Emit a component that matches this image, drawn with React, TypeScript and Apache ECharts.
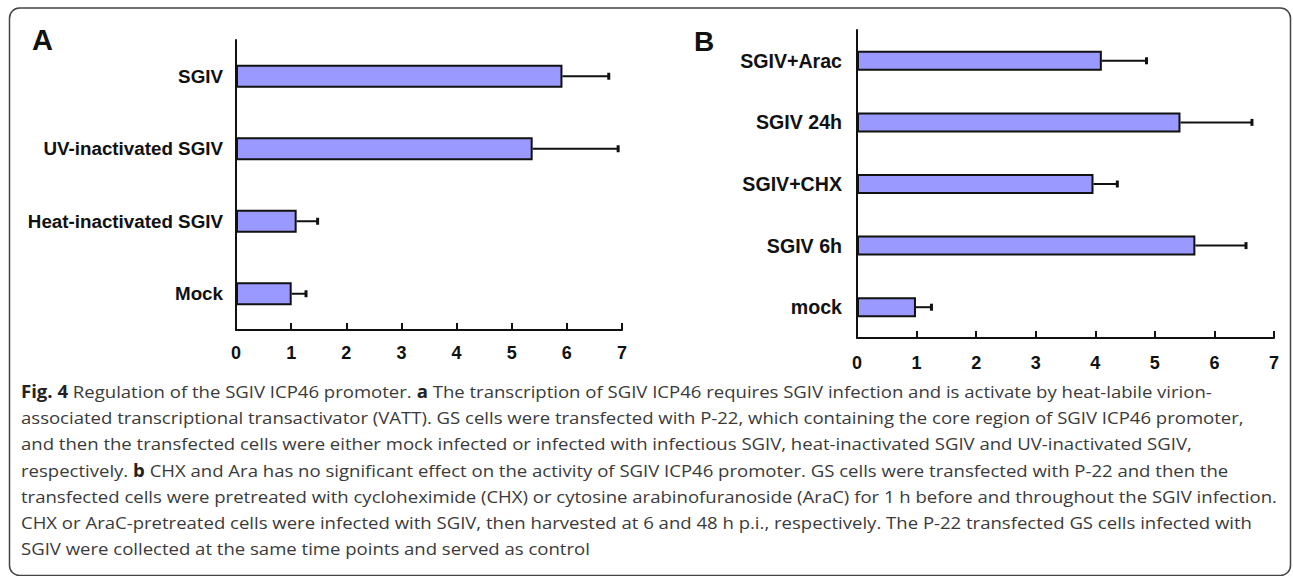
import React, { useEffect, useRef } from "react";
import * as echarts from "echarts";

const catsA = ["SGIV", "UV-inactivated SGIV", "Heat-inactivated SGIV", "Mock"];
const meansA = [5.92, 5.38, 1.1, 1.01];
const upperA = [6.76, 6.93, 1.48, 1.27];

const catsB = ["SGIV+Arac", "SGIV 24h", "SGIV+CHX", "SGIV 6h", "mock"];
const meansB = [4.11, 5.43, 3.97, 5.68, 0.99];
const upperB = [4.86, 6.63, 4.37, 6.53, 1.25];

const xMin = 0;
const xMax = 7;
const xStep = 1;

const panelLetters = ["A", "B"];

const captionLines = [
  "{b|Fig. 4} Regulation of the SGIV ICP46 promoter. {b|a} The transcription of SGIV ICP46 requires SGIV infection and is activate by heat-labile virion-",
  "associated transcriptional transactivator (VATT). GS cells were transfected with P-22, which containing the core region of SGIV ICP46 promoter,",
  "and then the transfected cells were either mock infected or infected with infectious SGIV, heat-inactivated SGIV and UV-inactivated SGIV,",
  "respectively. {b|b} CHX and Ara has no significant effect on the activity of SGIV ICP46 promoter. GS cells were transfected with P-22 and then the",
  "transfected cells were pretreated with cycloheximide (CHX) or cytosine arabinofuranoside (AraC) for 1 h before and throughout the SGIV infection.",
  "CHX or AraC-pretreated cells were infected with SGIV, then harvested at 6 and 48 h p.i., respectively. The P-22 transfected GS cells infected with",
  "SGIV were collected at the same time points and served as control",
];

const AX_FONT = "'Liberation Sans', Arial, sans-serif";
const CAP_FONT = "'Open Sans', 'Noto Sans', sans-serif";

function errRender(params: any, api: any) {
  const cat = api.value(0);
  const m = api.value(1);
  const u = api.value(2);
  const p0 = api.coord([m, cat]);
  const p1 = api.coord([u, cat]);
  return {
    type: "group",
    children: [
      {
        type: "line",
        shape: { x1: p0[0], y1: p0[1], x2: p1[0], y2: p1[1] },
        style: { stroke: "#111", lineWidth: 2 },
      },
      {
        type: "line",
        shape: { x1: p1[0], y1: p1[1] - 3.5, x2: p1[0], y2: p1[1] + 3.5 },
        style: { stroke: "#111", lineWidth: 3 },
      },
    ],
  };
}

export default function App() {
  const ref = useRef<HTMLDivElement>(null);
  useEffect(() => {
    if (!ref.current) return;
    const chart = echarts.init(ref.current, null, { renderer: "svg" });

    let scale = 0.92;
    try {
      const ctx = document.createElement("canvas").getContext("2d");
      if (ctx) {
        ctx.font = "17px 'Open Sans'";
        const w = ctx.measureText(captionLines[4]).width;
        if (w > 0) scale = 1257 / w;
      }
    } catch (e) {}

    const xAxisBase = (gridIndex: number, margin: number) => ({
      type: "value",
      gridIndex,
      min: xMin,
      max: xMax,
      interval: xStep,
      splitLine: { show: false },
      axisLine: { show: true, lineStyle: { color: "#111", width: 2 } },
      axisTick: { show: true, inside: true, length: 7, lineStyle: { color: "#111", width: 2 } },
      axisLabel: {
        color: "#111",
        fontWeight: "bold",
        fontSize: 18,
        fontFamily: AX_FONT,
        margin,
      },
    });
    const yAxisBase = (gridIndex: number, data: string[], fontSize: number, margin: number) => ({
      type: "category",
      gridIndex,
      data,
      inverse: true,
      axisLine: { show: true, onZero: false, lineStyle: { color: "#111", width: 2 } },
      axisTick: { show: false },
      axisLabel: {
        color: "#111",
        fontWeight: "bold",
        fontSize,
        fontFamily: AX_FONT,
        margin,
      },
    });

    const option: any = {
      animation: false,
      backgroundColor: "#fff",
      grid: [
        { left: 236, top: 40, width: 386, height: 290 },
        { left: 857, top: 30, width: 417, height: 308 },
      ],
      xAxis: [xAxisBase(0, 14), xAxisBase(1, 16)],
      yAxis: [yAxisBase(0, catsA, 18.8, 13), yAxisBase(1, catsB, 19.6, 15)],
      series: [
        {
          type: "bar",
          xAxisIndex: 0,
          yAxisIndex: 0,
          data: meansA,
          barWidth: 23,
          itemStyle: { color: "#9999ff", borderColor: "#111", borderWidth: 2 },
        },
        {
          type: "custom",
          xAxisIndex: 0,
          yAxisIndex: 0,
          renderItem: errRender,
          encode: { x: [1, 2], y: 0 },
          data: catsA.map((c, i) => [i, meansA[i], upperA[i]]),
          z: 3,
        },
        {
          type: "bar",
          xAxisIndex: 1,
          yAxisIndex: 1,
          data: meansB,
          barWidth: 20,
          itemStyle: { color: "#9999ff", borderColor: "#111", borderWidth: 2 },
        },
        {
          type: "custom",
          xAxisIndex: 1,
          yAxisIndex: 1,
          renderItem: errRender,
          encode: { x: [1, 2], y: 0 },
          data: catsB.map((c, i) => [i, meansB[i], upperB[i]]),
          z: 3,
        },
      ],
      graphic: [
        {
          type: "rect",
          shape: { x: 9.5, y: 8, width: 1281, height: 567.5, r: 10 },
          style: { fill: "none", stroke: "#444", lineWidth: 1.5 },
          silent: true,
        },
        {
          type: "text",
          x: 32,
          y: 40,
          style: {
            text: panelLetters[0],
            font: `bold 29px ${AX_FONT}`,
            fill: "#111",
            textAlign: "left",
            textVerticalAlign: "middle",
          },
        },
        {
          type: "text",
          x: 694,
          y: 41,
          style: {
            text: panelLetters[1],
            font: `bold 28px ${AX_FONT}`,
            fill: "#111",
            textAlign: "left",
            textVerticalAlign: "middle",
          },
        },
        {
          type: "group",
          x: 21,
          y: 0,
          scaleX: scale,
          children: captionLines.map((t, i) => ({
            type: "text",
            x: 0,
            y: 391 + i * 26.3,
            style: {
              text: t,
              fontSize: 17,
              fontFamily: CAP_FONT,
              fill: "#3a3a3a",
              textAlign: "left",
              textVerticalAlign: "middle",
              rich: {
                b: { fontWeight: "bold", fontSize: 17, fontFamily: CAP_FONT, fill: "#222" },
              },
            },
          })),
        },
      ],
    };
    chart.setOption(option);
    return () => chart.dispose();
  }, []);
  return (
    <div
      ref={ref}
      style={{ position: "fixed", left: 0, top: 0, width: 1293, height: 576, background: "#fff" }}
    />
  );
}
